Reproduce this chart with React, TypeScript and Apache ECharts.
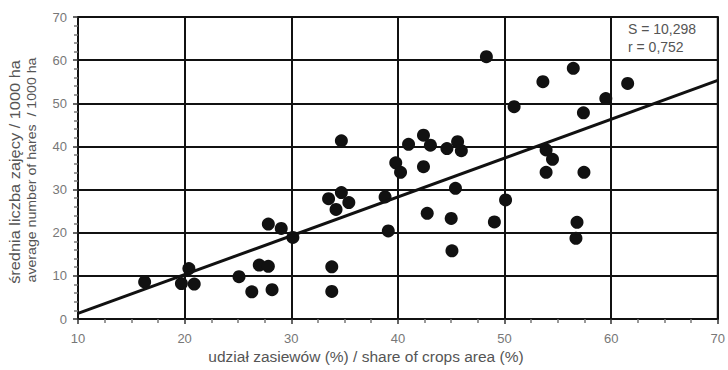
import React, { useEffect, useRef } from "react";
import * as echarts from "echarts";

const cropShare = [
  16.25, 19.7, 20.4, 20.9, 25.1, 26.3, 27.0, 27.85, 28.2, 27.85, 29.06, 30.15,
  33.5, 34.7, 34.2, 35.4, 34.7, 33.8, 33.8, 38.8, 39.1, 39.8, 40.25, 41.0,
  42.4, 43.05, 42.4, 42.75, 44.6, 45.6, 45.95, 45.4, 45.0, 45.07,
  48.3, 50.9, 53.6, 56.45, 59.5, 61.55, 57.4, 53.9, 54.5, 53.9, 57.45,
  50.1, 49.05, 56.8, 56.7,
];
const hares = [
  8.6, 8.2, 11.7, 8.1, 9.8, 6.3, 12.5, 12.2, 6.8, 22.0, 21.0, 18.9,
  27.9, 29.3, 25.4, 27.0, 41.3, 12.1, 6.4, 28.3, 20.4, 36.2, 34.0, 40.5,
  42.6, 40.3, 35.3, 24.5, 39.5, 41.1, 39.0, 30.3, 23.3, 15.8,
  60.8, 49.2, 55.0, 58.1, 51.1, 54.6, 47.8, 39.2, 37.0, 34.0, 34.0,
  27.6, 22.5, 22.4, 18.7,
];
const regX = [10, 70];
const regY = [1.3, 55.3];
const statLines = ["S = 10,298", "r = 0,752"];
const xName = "udział zasiewów (%) / share of crops area (%)";
const yName1 = "średnia liczba zajęcy / 1000 ha";
const yName2 = "average number of hares  / 1000 ha";

export default function App() {
  const ref = useRef<HTMLDivElement>(null);
  useEffect(() => {
    if (!ref.current) return;
    const chart = echarts.init(ref.current, null, { renderer: "svg" });
    const font = "'Liberation Sans', Arial, sans-serif";
    chart.setOption({
      animation: false,
      grid: {
        left: 78,
        right: 7,
        top: 17,
        bottom: 51,
        show: true,
        borderColor: "#111",
        borderWidth: 2,
      },
      xAxis: {
        type: "value",
        min: 10,
        max: 70,
        interval: 10,
        axisLine: { lineStyle: { color: "#111", width: 2 } },
        axisTick: { show: true, length: 5, lineStyle: { color: "#333", width: 1.5 } },
        minorTick: { show: true, splitNumber: 4, length: 4, lineStyle: { color: "#777", width: 1.5 } },
        splitLine: { show: true, lineStyle: { color: "#111", width: 2 } },
        axisLabel: { color: "#777", fontSize: 13, fontFamily: font, margin: 13 },
      },
      yAxis: {
        type: "value",
        min: 0,
        max: 70,
        interval: 10,
        axisLine: { show: true, lineStyle: { color: "#111", width: 2 } },
        axisTick: { show: true, length: 5, lineStyle: { color: "#333", width: 1.5 } },
        minorTick: { show: true, splitNumber: 5, length: 4, lineStyle: { color: "#777", width: 1.5 } },
        splitLine: { show: true, lineStyle: { color: "#111", width: 2 } },
        axisLabel: { color: "#777", fontSize: 13, fontFamily: font, margin: 11 },
      },
      series: [
        {
          type: "scatter",
          data: cropShare.map((x, i) => [x, hares[i]]),
          symbolSize: 13,
          itemStyle: { color: "#111", opacity: 1 },
          z: 3,
        },
        {
          type: "line",
          data: regX.map((x, i) => [x, regY[i]]),
          symbol: "none",
          lineStyle: { color: "#111", width: 3 },
          z: 4,
        },
      ],
      graphic: [
        {
          type: "text",
          left: 628,
          top: 20,
          style: {
            text: statLines.join("\n"),
            fill: "#555",
            fontSize: 14,
            lineHeight: 18,
            fontFamily: font,
          },
        },
        {
          type: "text",
          x: 366,
          y: 356,
          style: {
            text: xName,
            fill: "#555",
            fontSize: 15.5,
            fontFamily: font,
            align: "center",
            verticalAlign: "middle",
          },
        },
        {
          type: "text",
          x: 15,
          y: 172,
          rotation: Math.PI / 2,
          scaleX: 1.17,
          style: {
            text: yName1,
            fill: "#555",
            fontSize: 14,
            fontFamily: font,
            align: "center",
            verticalAlign: "middle",
          },
        },
        {
          type: "text",
          x: 32,
          y: 170,
          rotation: Math.PI / 2,
          scaleX: 1.18,
          style: {
            text: yName2,
            fill: "#555",
            fontSize: 12,
            fontFamily: font,
            align: "center",
            verticalAlign: "middle",
          },
        },
      ],
    });
    return () => chart.dispose();
  }, []);
  return <div ref={ref} style={{ width: 728, height: 370, position: "absolute", left: 0, top: 0 }} />;
}
